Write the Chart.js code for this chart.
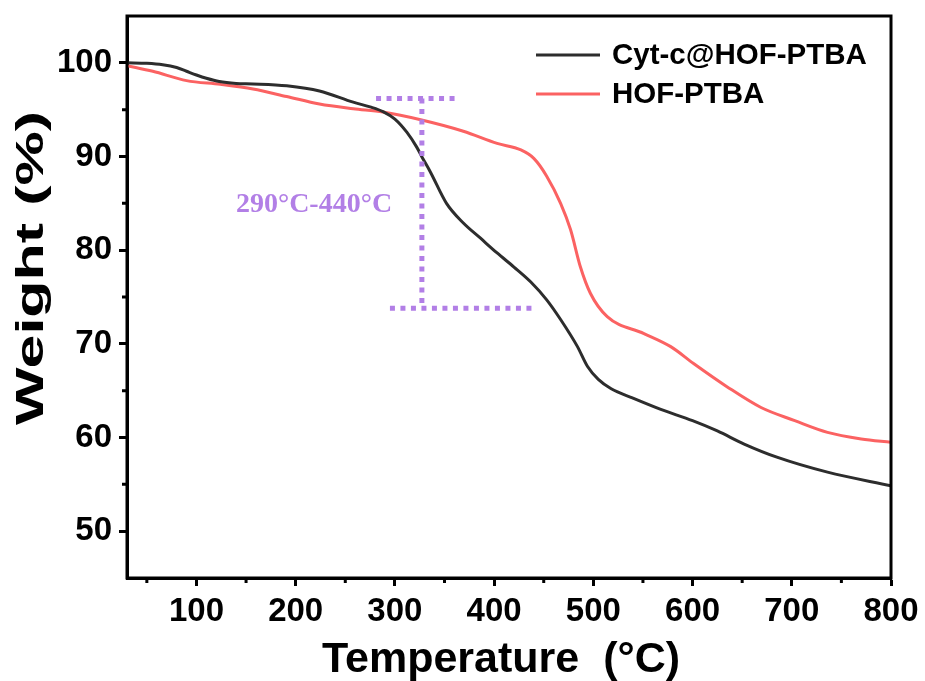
<!DOCTYPE html>
<html>
<head>
<meta charset="utf-8">
<title>TGA</title>
<script src="https://cdn.jsdelivr.net/npm/chart.js@4.4.1/dist/chart.umd.min.js"></script>
<style>
  html, body { margin: 0; padding: 0; background: #fff; }
  #wrap { width: 925px; height: 681px; }
</style>
</head>
<body>
<div id="wrap"><canvas id="tgaChart" width="925" height="681"></canvas></div>
<script>
// TGA curves, values
const cytTemp   = [30, 50, 66, 80, 90, 100, 110, 123, 140, 157, 191, 224, 258, 275, 288, 300, 312, 322, 327, 336, 352, 369, 386, 403, 420, 437, 453, 467, 484, 494, 505, 518, 540, 568, 600, 625, 652, 685, 736, 800];
const cytWeight = [100.0, 99.95, 99.8, 99.5, 99.1, 98.7, 98.35, 98.0, 97.8, 97.75, 97.55, 97.0, 95.8, 95.3, 94.8, 94.0, 92.6, 91.0, 90.0, 88.3, 85.0, 82.9, 81.3, 79.7, 78.2, 76.6, 74.7, 72.6, 69.7, 67.6, 66.2, 65.2, 64.2, 63.0, 61.8, 60.7, 59.3, 57.9, 56.3, 54.85];

const hofTemp   = [30, 56, 90, 124, 157, 191, 224, 258, 288, 327, 369, 403, 427, 440, 453, 467, 477, 487, 497, 514, 551, 578, 601, 635, 669, 703, 736, 770, 800];
const hofWeight = [99.7, 99.1, 98.1, 97.7, 97.2, 96.4, 95.6, 95.1, 94.75, 93.9, 92.7, 91.4, 90.7, 89.8, 87.9, 85.0, 82.2, 78.2, 75.4, 72.9, 71.1, 69.7, 67.9, 65.4, 63.2, 61.8, 60.55, 59.85, 59.5];

const seriesLabels = ["Cyt-c@HOF-PTBA", "HOF-PTBA"];
const seriesColors = ["#2d2d2d", "#fb6262"];

const xTickValues  = [100, 200, 300, 400, 500, 600, 700, 800];
const xMinorValues = [50, 150, 250, 350, 450, 550, 650, 750];
const yTickValues  = [50, 60, 70, 80, 90, 100];
const yMinorValues = [55, 65, 75, 85, 95];

// bracket marking the 290-440 °C step
const bracket = {
  top:    { y: 96.2, from: 281, to: 364 },
  stem:   { x: 327.2, from: 96.2, to: 73.8 },
  bottom: { y: 73.8, from: 295, to: 442 },
  label:  { text: "290°C-440°C", x: 218.5, y: 84.9 }
};

const tickFont = { family: "'Liberation Sans', Arial, sans-serif", size: 33, weight: "bold" };
const purple = "#b27fe6";

function toPoints(xs, ys) {
  return xs.map((x, i) => ({ x: x, y: ys[i] }));
}

// frame, minor ticks, legend, titles, bracket
const extrasPlugin = {
  id: "extras",
  afterDatasetsDraw(chart) {
    const { ctx, chartArea: a, scales } = chart;
    const xs = scales.x, ys = scales.y;
    ctx.save();

    // bracket
    ctx.strokeStyle = purple;
    ctx.lineWidth = 5;
    ctx.setLineDash([5, 5.5]);
    ctx.beginPath();
    ctx.moveTo(xs.getPixelForValue(bracket.top.from), ys.getPixelForValue(bracket.top.y));
    ctx.lineTo(xs.getPixelForValue(bracket.top.to), ys.getPixelForValue(bracket.top.y));
    ctx.moveTo(xs.getPixelForValue(bracket.stem.x), ys.getPixelForValue(bracket.stem.from));
    ctx.lineTo(xs.getPixelForValue(bracket.stem.x), ys.getPixelForValue(bracket.stem.to));
    ctx.moveTo(xs.getPixelForValue(bracket.bottom.from), ys.getPixelForValue(bracket.bottom.y));
    ctx.lineTo(xs.getPixelForValue(bracket.bottom.to), ys.getPixelForValue(bracket.bottom.y));
    ctx.stroke();
    ctx.setLineDash([]);

    ctx.fillStyle = purple;
    ctx.font = "bold 28px 'Liberation Serif', 'Times New Roman', serif";
    ctx.textAlign = "center";
    ctx.textBaseline = "middle";
    ctx.fillText(bracket.label.text, xs.getPixelForValue(bracket.label.x), ys.getPixelForValue(bracket.label.y));

    // frame
    ctx.strokeStyle = "#000";
    ctx.lineWidth = 3;
    ctx.strokeRect(a.left, a.top, a.right - a.left, a.bottom - a.top);

    // minor ticks
    ctx.beginPath();
    xMinorValues.forEach((v) => {
      const px = xs.getPixelForValue(v);
      ctx.moveTo(px, a.bottom);
      ctx.lineTo(px, a.bottom + 5);
    });
    yMinorValues.forEach((v) => {
      const py = ys.getPixelForValue(v);
      ctx.moveTo(a.left, py);
      ctx.lineTo(a.left - 5, py);
    });
    ctx.stroke();

    // legend
    ctx.font = "bold 29.5px 'Liberation Sans', Arial, sans-serif";
    ctx.textAlign = "left";
    ctx.textBaseline = "middle";
    chart.data.datasets.forEach((ds, i) => {
      const ly = 55 + i * 39;
      ctx.strokeStyle = ds.borderColor;
      ctx.lineWidth = 3;
      ctx.beginPath();
      ctx.moveTo(536, ly);
      ctx.lineTo(600, ly);
      ctx.stroke();
      ctx.fillStyle = "#000";
      ctx.fillText(ds.label, 612, ly + 1);
    });

    // x title
    ctx.fillStyle = "#000";
    ctx.font = "bold 43px 'Liberation Sans', Arial, sans-serif";
    ctx.textAlign = "center";
    ctx.textBaseline = "alphabetic";
    ctx.fillText("Temperature  (°C)", 501, 672);

    // y title, drawn tall and narrow like the original
    ctx.font = "bold 38px 'Liberation Sans', Arial, sans-serif";
    const yTitle = "Weight (%)";
    const w = ctx.measureText(yTitle).width;
    ctx.translate(43, 268);
    ctx.rotate(-Math.PI / 2);
    ctx.scale(314 / w, 1);
    ctx.fillText(yTitle, 0, 0);

    ctx.restore();
  }
};

document.addEventListener("DOMContentLoaded", function () {
  const ctx = document.getElementById("tgaChart").getContext("2d");
  new Chart(ctx, {
    type: "line",
    data: {
      datasets: [
        {
          label: seriesLabels[0],
          data: toPoints(cytTemp, cytWeight),
          borderColor: seriesColors[0],
          borderWidth: 3,
          pointRadius: 0,
          fill: false,
          cubicInterpolationMode: "monotone",
        },
        {
          label: seriesLabels[1],
          data: toPoints(hofTemp, hofWeight),
          borderColor: seriesColors[1],
          borderWidth: 3,
          pointRadius: 0,
          fill: false,
          cubicInterpolationMode: "monotone",
        },
      ],
    },
    options: {
      responsive: false,
      animation: false,
      layout: { padding: { left: 0, top: 16, right: 34, bottom: 0 } },
      plugins: {
        legend: { display: false },
        tooltip: { enabled: false },
      },
      scales: {
        x: {
          type: "linear",
          min: 30,
          max: 800,
          afterBuildTicks: (s) => { s.ticks = xTickValues.map((v) => ({ value: v })); },
          afterFit: (s) => { s.height = 103; s.paddingLeft = 0; s.paddingRight = 0; },
          grid: { drawOnChartArea: false, drawTicks: true, tickLength: 8, tickWidth: 3, tickColor: "#000" },
          border: { display: true, width: 3, color: "#000" },
          ticks: { color: "#000", font: tickFont, padding: 6, maxRotation: 0, autoSkip: false },
        },
        y: {
          min: 45,
          max: 105,
          afterBuildTicks: (s) => { s.ticks = yTickValues.map((v) => ({ value: v })); },
          afterFit: (s) => { s.width = 127; s.paddingTop = 0; s.paddingBottom = 0; },
          grid: { drawOnChartArea: false, drawTicks: true, tickLength: 8, tickWidth: 3, tickColor: "#000" },
          border: { display: true, width: 3, color: "#000" },
          ticks: { color: "#000", font: tickFont, padding: 7, autoSkip: false },
        },
      },
    },
    plugins: [extrasPlugin],
  });
});
</script>
</body>
</html>
